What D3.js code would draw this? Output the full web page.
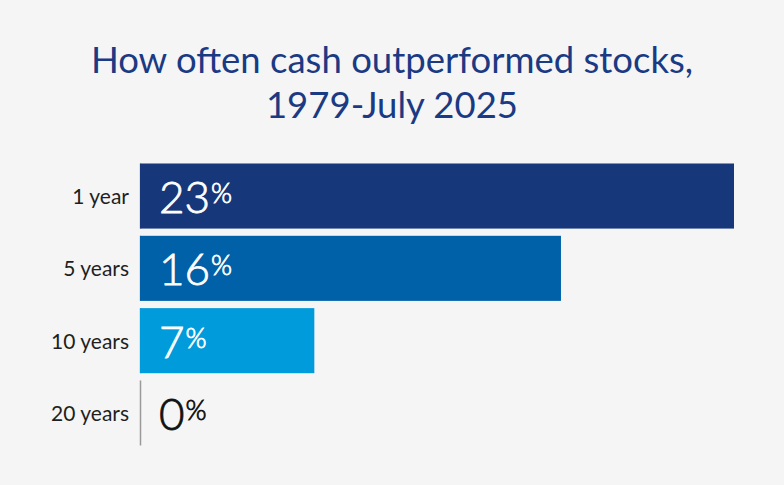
<!DOCTYPE html>
<html>
<head>
<meta charset="utf-8">
<script src="https://cdn.jsdelivr.net/npm/d3@7"></script>
<style>
  html, body { margin: 0; padding: 0; background: #f5f5f5; }
  svg { display: block; font-family: Lato, "Open Sans", sans-serif; }
</style>
</head>
<body>
<div id="chart"></div>
<script>
let width = 784;
let height = 485;

// data
const titleLines = ["How often cash outperformed stocks,", "1979-July 2025"];
const periods = ["1 year", "5 years", "10 years", "20 years"];
const shares = [23, 16.3, 6.75, 0];
const barColors = ["#17377b", "#0061a9", "#009bdb", "#009bdb"];

const rows = periods.map((p, i) => ({ period: p, value: shares[i], color: barColors[i] }));

let svg = d3.select("#chart")
    .append("svg")
    .attr("width", width)
    .attr("height", height);

svg.append("rect")
    .attr("width", width)
    .attr("height", height)
    .attr("fill", "#f5f5f5");

// title
svg.append("text")
    .attr("text-anchor", "middle")
    .attr("fill", "#1b3a84")
    .style("font-size", "36.5px")
    .selectAll("tspan")
    .data(titleLines)
    .enter()
    .append("tspan")
    .attr("x", width / 2)
    .attr("y", (d, i) => 73 + i * 44.6)
    .text(d => d);

let xScale = d3.scaleLinear()
    .domain([0, 23])
    .range([140, 734]);

let yScale = d3.scaleBand()
    .domain(periods)
    .range([163.5, 445.5])
    .paddingInner(0.1)
    .paddingOuter(0);

// thin baseline piece for each row (only visible where no bar covers it)
svg.append("g")
    .selectAll("line")
    .data(rows)
    .enter()
    .append("line")
    .attr("x1", xScale(0) + 0.5)
    .attr("x2", xScale(0) + 0.5)
    .attr("y1", d => yScale(d.period))
    .attr("y2", d => yScale(d.period) + yScale.bandwidth())
    .attr("stroke", "#9a9a9a")
    .attr("stroke-width", 1.5);

svg.append("g")
    .selectAll("rect")
    .data(rows)
    .enter()
    .append("rect")
    .attr("x", xScale(0))
    .attr("y", d => yScale(d.period))
    .attr("width", d => xScale(d.value) - xScale(0))
    .attr("height", yScale.bandwidth())
    .attr("fill", d => d.color);

// row labels
let yAxis = d3.axisLeft(yScale).tickSize(0).tickPadding(11);
let axisG = svg.append("g")
    .attr("transform", `translate(${xScale(0)},0)`)
    .call(yAxis);
axisG.select(".domain").remove();
axisG.selectAll("text")
    .attr("dy", null)
    .attr("y", 8)
    .attr("fill", "#1f1f1f")
    .style("font-family", "Lato, 'Open Sans', sans-serif")
    .style("font-size", "21px");

// value labels (light weight, thickened a little with a stroke)
let valueLabels = svg.append("g")
    .selectAll("text")
    .data(rows)
    .enter()
    .append("text")
    .attr("x", xScale(0) + 19)
    .attr("y", d => yScale(d.period) + yScale.bandwidth() / 2 + 17)
    .attr("fill", d => d.value > 0 ? "#ffffff" : "#111111")
    .attr("stroke", d => d.value > 0 ? "#ffffff" : "#111111")
    .attr("stroke-width", 0.8)
    .style("font-weight", 300);

valueLabels.append("tspan")
    .style("font-size", "44px")
    .text(d => d3.format(".0f")(d.value));

valueLabels.append("tspan")
    .style("font-size", "27px")
    .attr("dx", 1)
    .attr("dy", -10)
    .text("%");
</script>
</body>
</html>
